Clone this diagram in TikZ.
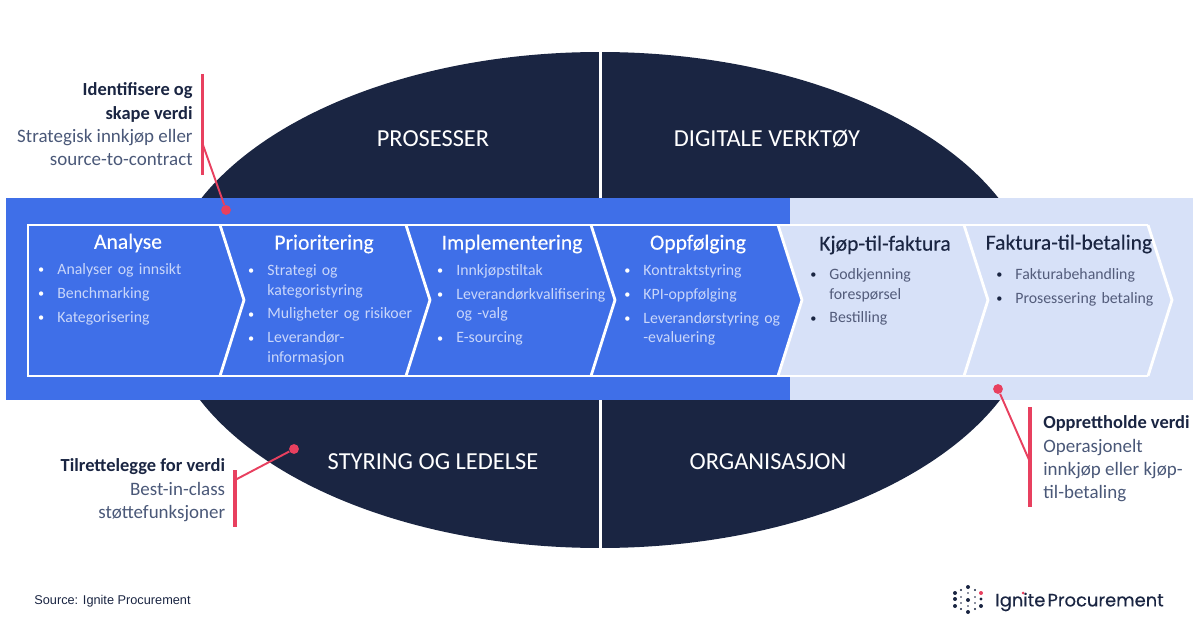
\documentclass[tikz,border=0pt]{standalone}
\usepackage{fontspec}
\setmainfont{Carlito}
\newfontfamily\sourcefont{Liberation Sans}
\newfontfamily\logofont[FakeBold=0.3]{Poppins}
\newfontfamily\phasefont[FakeBold=0.2]{Carlito}
\usetikzlibrary{positioning}
\definecolor{navy}{HTML}{1A2542}
\definecolor{bandblue}{HTML}{3F6FE8}
\definecolor{bandlight}{HTML}{D7E1F8}
\definecolor{accent}{HTML}{E8405F}
\definecolor{paleitem}{HTML}{C9D6FA}
\definecolor{darkitem}{HTML}{535C7B}
\definecolor{subtext}{HTML}{4A5878}
\newcommand{\bitem}{\par\setlength{\parskip}{2.3pt}\noindent
	\makebox[9.7pt][l]{\hspace{-1.2pt}\raisebox{.5pt}{\textcolor{bulletcol}{\fontsize{7}{7}\selectfont\textbullet}}}}
\newcommand{\wrapline}{\newline\hspace*{9.7pt}}
\newcommand{\calloutlead}[1]{\textcolor{navy}{\fontsize{10.5}{13.3}\selectfont\textbf{#1}}}
\tikzset{
	quadlabel/.style={text=white,font=\fontsize{13.9}{16}\selectfont},
	phase/.style={font=\phasefont\fontsize{12.3}{14}\selectfont},
	itemlist/.style={anchor=north west,inner sep=0pt,text width=3.5cm,align=left,font=\fontsize{9}{11.3}\selectfont},
	bluelist/.style={itemlist,text=paleitem,execute at begin node={\colorlet{bulletcol}{white}}},
	lightlist/.style={itemlist,text=darkitem,execute at begin node={\colorlet{bulletcol}{navy}}},
	callout/.style={inner sep=0pt,text=subtext,font=\fontsize{10.8}{13.3}\selectfont},
	bar/.style={accent,line width=1.8pt},
	lead/.style={accent,line width=1.1pt},
	dot/.style={circle,fill=accent,inner sep=0pt,minimum size=5.6pt},
}
\begin{document}
\begin{tikzpicture}[x=0.02cm,y=-0.02cm]
	\useasboundingbox (0,0) rectangle (1200,628);
	% oval behind the band
	\fill[navy] (600,300) ellipse [x radius=437,y radius=248];
	\draw[white,line width=1.7pt] (600.5,50) -- (600.5,550);
	\node[quadlabel] (prosesser) at (433,139) {PROSESSER};
	\node[quadlabel] (verktoy) at (767,139) {DIGITALE VERKTØY};
	\node[quadlabel] (styring) at (433,462) {STYRING OG LEDELSE};
	\node[quadlabel] (organisasjon) at (768,462) {ORGANISASJON};
	% band
	\fill[bandblue] (6,198) rectangle (790,400);
	\fill[bandlight] (790,198) rectangle (1193,400);
	% chevrons
	\fill[bandblue] (28,225) -- (220,225) -- (244,300) -- (220,376) -- (28,376) -- cycle;
	\foreach \a/\b/\col in {220/406/bandblue,406/591/bandblue,591/778/bandblue,778/964/bandlight,964/1148/bandlight}
		\fill[\col] (\a,225) -- (\b,225) -- (\b+24,300) -- (\b,376) -- (\a,376) -- (\a+24,300) -- cycle;
	\draw[white,line width=1.6pt,line join=miter] (1148,225) -- (28,225) -- (28,376) -- (1148,376);
	\foreach \b in {220,406,591,778,964,1148}
		\draw[white,line width=1.6pt] (\b,225) -- (\b+24,300) -- (\b,376);
	% phases
	\node[phase,text=white] (analyse) at (128,243) {Analyse};
	\node[phase,text=white] (prioritering) at (324,244) {Prioritering};
	\node[phase,text=white] (implementering) at (512,244) {Implementering};
	\node[phase,text=white] (oppfolging) at (698,244) {Oppfølging};
	\node[phase,text=navy] (kjop) at (885,245) {Kjøp-til-faktura};
	\node[phase,text=navy] (faktura) at (1069,244) {Faktura-til-betaling};
	\node[bluelist] (analyselist) at (40,250) {\bitem Analyser og innsikt\bitem Benchmarking\bitem Kategorisering};
	\node[bluelist] (priorlist) at (250,251) {\bitem Strategi og\wrapline kategoristyring\bitem Muligheter og risikoer\bitem Leverandør-\wrapline informasjon};
	\node[bluelist] (implist) at (439,251) {\bitem Innkjøpstiltak\bitem Leverandørkvalifisering\wrapline og -valg\bitem E-sourcing};
	\node[bluelist] (oppflist) at (626,251) {\bitem Kontraktstyring\bitem KPI-oppfølging\bitem Leverandørstyring og\wrapline -evaluering};
	\node[lightlist] (kjoplist) at (812,255) {\bitem Godkjenning\wrapline forespørsel\bitem Bestilling};
	\node[lightlist] (fakturalist) at (998,255) {\bitem Fakturabehandling\bitem Prosessering betaling};
	% callouts
	\node[callout,anchor=north east,align=right] (identifisere) at (193,82.5) {\calloutlead{Identifisere og}\\\calloutlead{skape verdi}\\Strategisk innkjøp eller\\source-to-contract};
	\coordinate (identbartop) at (202.5,74);
	\coordinate (identbarend) at (202.5,175);
	\coordinate (identjoin) at (203,145);
	\node[dot] (identdot) at (226,210) {};
	\draw[bar] (identbartop) -- (identbarend);
	\draw[lead] (identjoin) -- (identdot);
	\node[callout,anchor=north east,align=right] (tilrette) at (225.5,458.5) {\calloutlead{Tilrettelegge for verdi}\\Best-in-class\\støttefunksjoner};
	\coordinate (tilbartop) at (235,470);
	\coordinate (tilbarend) at (235,527);
	\coordinate (tiljoin) at (235,480);
	\node[dot] (tildot) at (294,449) {};
	\draw[bar] (tilbartop) -- (tilbarend);
	\draw[lead] (tiljoin) -- (tildot);
	\node[callout,anchor=north west,align=left] (oppretthold) at (1043,415.5) {\calloutlead{Opprettholde verdi}\\Operasjonelt\\innkjøp eller kjøp-\\til-betaling};
	\coordinate (oppbartop) at (1030,407);
	\coordinate (oppbarend) at (1030,507);
	\coordinate (oppjoin) at (1030,462);
	\node[dot] (oppdot) at (998,389) {};
	\draw[bar] (oppbartop) -- (oppbarend);
	\draw[lead] (oppjoin) -- (oppdot);
	% source and logo
	\node[anchor=west,inner sep=0pt,font=\sourcefont\fontsize{7.25}{9}\selectfont,text=navy] (source) at (34,601) {Source: Ignite Procurement};
	\node[anchor=west,inner sep=0pt,font=\logofont\fontsize{10.2}{12}\selectfont,text=navy] (logo) at (995,602) {Ignite\hspace{-1.5pt} Procurement};
	\foreach \px/\py/\r in {968/587/2,961/590/1.2,975/590/1.2,955/593/2,968/593/.8,955/599/2,961/597/.9,975/597/.9,968/600/2,981/599/1.6,961/603/.9,975/603/.9,955/606/2,968/606/.8,981/606/2,961/609/1.2,975/609/1.2,968/612/2}
		\fill[navy] (\px,\py) circle [radius=\r];
	\fill[accent] (981,593) circle [radius=2];
	\fill[accent] (1023,593) circle [radius=1.5];
\end{tikzpicture}
\end{document}
